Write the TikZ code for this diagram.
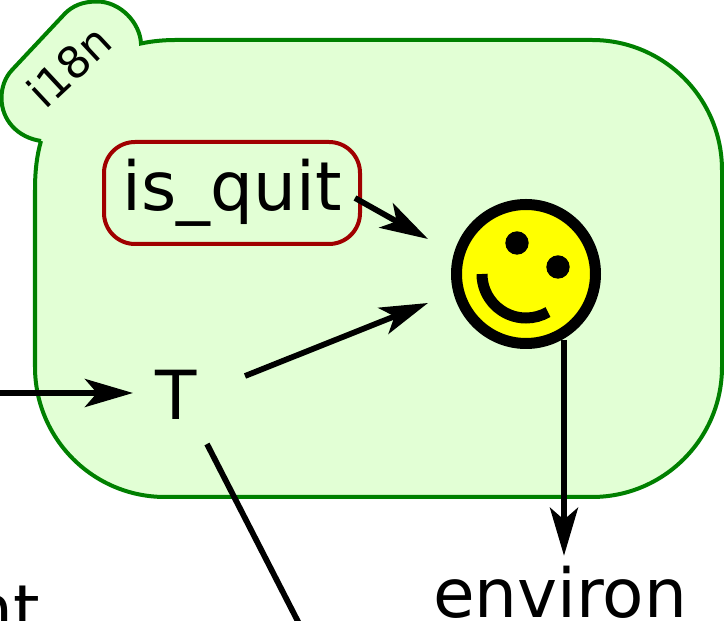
\documentclass[tikz,border=0pt]{standalone}
\usepackage{fontspec}
\setmainfont{DejaVu Sans}
\usetikzlibrary{arrows.meta,positioning}
\definecolor{frameFill}{RGB}{226,255,213}
\definecolor{frameLine}{RGB}{0,128,0}
\definecolor{quitLine}{RGB}{160,0,0}
\definecolor{faceFill}{RGB}{255,255,0}
\tikzset{
	big/.style={font=\fontsize{38.5}{43}\selectfont, inner sep=0.1cm},
	conn/.style={-{Stealth[length=0.96cm,width=0.56cm,inset=0.24cm]}, line width=0.115cm},
	bare/.style={line width=0.115cm},
	frame/.style={draw=frameLine, fill=frameFill, line width=0.08cm},
	quitbox/.style={big, draw=quitLine, line width=0.08cm, rounded corners=0.62cm, minimum width=5.12cm, minimum height=2.04cm},
	face/.style={circle, draw=black, fill=faceFill, line width=0.22cm, minimum size=2.78cm, inner sep=0pt}
}

\begin{document}
\begin{tikzpicture}
	\useasboundingbox (0,0) rectangle (14.48,-12.42);
	\clip (0,0) rectangle (14.48,-12.42);

	% frame with its tab
	\draw[frame] (0.82,-2.82) .. controls (0.74,-3.1) and (0.70,-3.4) .. (0.70,-3.8)
		-- (0.70,-7.34) arc[start angle=180, end angle=270, radius=2.6]
		-- (11.84,-9.94) arc[start angle=270, end angle=360, radius=2.6]
		-- (14.44,-3.4) arc[start angle=0, end angle=90, radius=2.6]
		-- (3.5,-0.8) .. controls (3.3,-0.8) and (3.05,-0.82) .. (2.82,-0.87)
		.. controls (2.8,-0.45) and (2.4,-0.03) .. (1.94,-0.03)
		.. controls (1.65,-0.03) and (1.45,-0.12) .. (1.3,-0.27)
		-- (0.24,-1.4)
		.. controls (0.1,-1.55) and (0.03,-1.75) .. (0.03,-1.96)
		.. controls (0.03,-2.4) and (0.35,-2.75) .. (0.82,-2.82);

	\node[font=\fontsize{25}{29}\selectfont, rotate=43] (L) at (1.38,-1.32) {i18n};
	\node[quitbox] (Q) at (4.64,-3.86) {is\_quit};
	\node[big, inner sep=0.44cm] (T) at (3.52,-7.9) {T};
	\node[face] (S) at (10.52,-5.48) {};
	\node[big, anchor=base] (E) at (11.2,-12.36) {environ};
	\node[big, anchor=base east, inner sep=0pt] (N) at (0.8,-12.68) {nt};

	% face
	\fill ([shift={(-0.18,0.62)}]S.center) circle (0.234);
	\fill ([shift={(0.64,0.14)}]S.center) circle (0.234);
	\draw[line width=0.22cm] ([shift={(-0.88,0)}]S.center) arc[start angle=180, end angle=300, radius=0.88];

	% free ends
	\coordinate (inT) at (-0.5,-7.86);
	\coordinate (outT) at (6.2,-12.9);

	\path[conn] ([shift={(2.46,-0.10)}]Q.center) edge ([shift={(-1.96,0.70)}]S.center);
	\path[conn] ([shift={(1.38,0.38)}]T.center) edge ([shift={(-1.96,-0.58)}]S.center);
	\path[conn] (inT) edge (inT -| T.west);
	\path[bare] ([shift={(0.62,-0.98)}]T.center) edge (outT);
	\path[conn] ([shift={(0.76,-1.32)}]S.center) edge ([xshift=0.08cm,yshift=0.11cm]E.north);
\end{tikzpicture}
\end{document}
